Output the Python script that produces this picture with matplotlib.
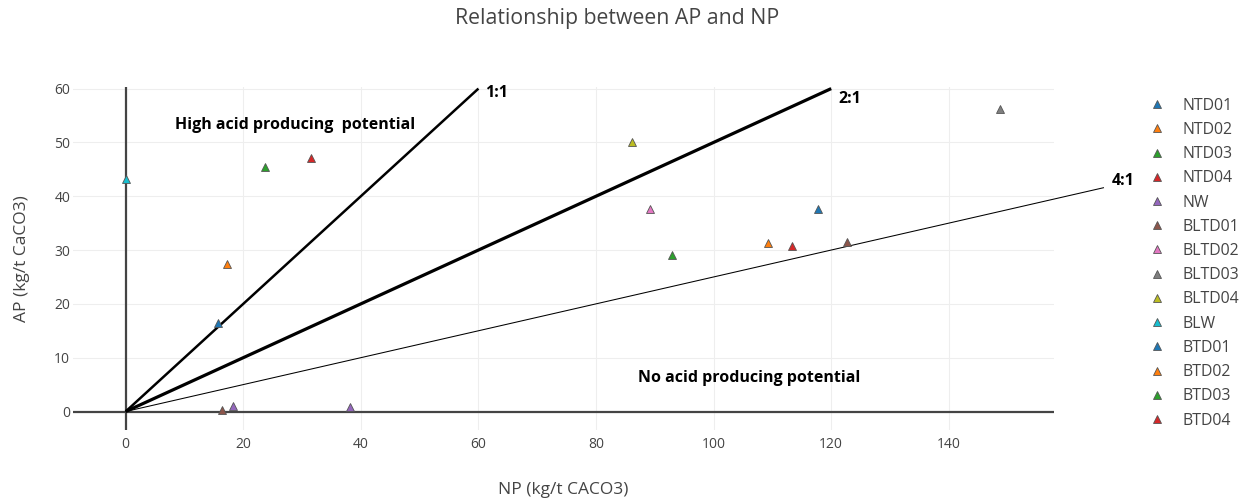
import matplotlib
matplotlib.use("Agg")
import matplotlib.pyplot as plt
from matplotlib.lines import Line2D

plt.rcParams['font.family'] = ['Open Sans', 'DejaVu Sans']

# Sample series: NP (x) and AP (y) in kg/t CaCO3
series = ["NTD01", "NTD02", "NTD03", "NTD04", "NW", "BLTD01", "BLTD02",
          "BLTD03", "BLTD04", "BLW", "BTD01", "BTD02", "BTD03", "BTD04"]
np_values = [[15.7], [17.2], [23.7], [31.5], [18.2, 38.1], [16.3, 122.7],
             [89.2], [148.7], [86.2], [0.0], [117.7], [109.2], [92.9], [113.3]]
ap_values = [[16.5], [27.4], [45.5], [47.1], [1.1, 0.8], [0.3, 31.5],
             [37.6], [56.2], [50.1], [43.2], [37.6], [31.4], [29.0], [30.8]]
colors = ["#1f77b4", "#ff7f0e", "#2ca02c", "#d62728", "#9467bd", "#8c564b",
          "#e377c2", "#7f7f7f", "#bcbd22", "#17becf",
          "#1f77b4", "#ff7f0e", "#2ca02c", "#d62728"]

# Ratio reference lines (NP end, AP end) and their labels
ratio_labels = ["1:1", "2:1", "4:1"]
ratio_ends = [(60, 60), (120, 60), (166.4, 41.6)]
ratio_widths = [1.8, 2.3, 0.75]
label_pos = [(63.1, 59.2), (123.2, 58.0), (169.6, 42.9)]

x_ticks = [0, 20, 40, 60, 80, 100, 120, 140]
y_ticks = [0, 10, 20, 30, 40, 50, 60]

fig = plt.figure(figsize=(12.5, 5.04), dpi=100)
ax = fig.add_axes([0.0584, 0.1468, 0.7848, 0.6806])
ax.set_xlim(-8.96, 157.9)
ax.set_ylim(-3.44, 60.3)

for s in ax.spines.values():
    s.set_visible(False)
ax.set_xticks(x_ticks)
ax.set_yticks(y_ticks)
ax.grid(True, color="#eeeeee", linewidth=0.8, zorder=0)
ax.tick_params(length=0, labelsize=10, colors="#444444")
ax.tick_params(axis="x", pad=5)
ax.tick_params(axis="y", pad=2)
ax.axhline(0, color="#444444", linewidth=1.6, zorder=2)
ax.axvline(0, color="#444444", linewidth=1.6, zorder=2)

for (xe, ye), lw in zip(ratio_ends, ratio_widths):
    ax.plot([0, xe], [0, ye], color="black", linewidth=lw, zorder=2.5,
            clip_on=False, solid_capstyle="butt")
for lab, (lx, ly) in zip(ratio_labels, label_pos):
    ax.text(lx, ly, lab, fontsize=11.5, fontweight="bold", ha="center",
            va="center", clip_on=False)

ax.text(28.8, 53.3, "High acid producing  potential", fontsize=11.5,
        fontweight="bold", ha="center", va="center")
ax.text(106.1, 6.2, "No acid producing potential", fontsize=11.5,
        fontweight="bold", ha="center", va="center")

handles = []
for name, xs, ys, c in zip(series, np_values, ap_values, colors):
    ax.plot(xs, ys, linestyle="none", marker="^", markersize=6.3,
            markerfacecolor=c, markeredgecolor="#555555",
            markeredgewidth=0.6, zorder=3, clip_on=False)
    handles.append(Line2D([], [], linestyle="none", marker="^", markersize=6.3,
                          markerfacecolor=c, markeredgecolor="#555555",
                          markeredgewidth=0.6, label=name))

ax.set_xlabel("NP (kg/t CACO3)", fontsize=12.5, color="#444444")
ax.set_ylabel("AP (kg/t CaCO3)", fontsize=12.5, color="#444444")
ax.xaxis.set_label_coords(0.5, -0.175)
ax.yaxis.set_label_coords(-0.052, 0.5)
ax.xaxis.label.set_va("center")
ax.yaxis.label.set_va("center")
fig.suptitle("Relationship between AP and NP", fontsize=15.3, color="#444444",
             x=0.4936, y=0.964, va="center")

leg = fig.legend(handles=handles, loc="upper left",
                 bbox_to_anchor=(0.9126, 0.822), frameon=False,
                 fontsize=11.4, labelspacing=0.52, handlelength=1.0,
                 handletextpad=1.15, borderpad=0)
for t in leg.get_texts():
    t.set_color("#444444")

fig.savefig("out.png", dpi=100)
